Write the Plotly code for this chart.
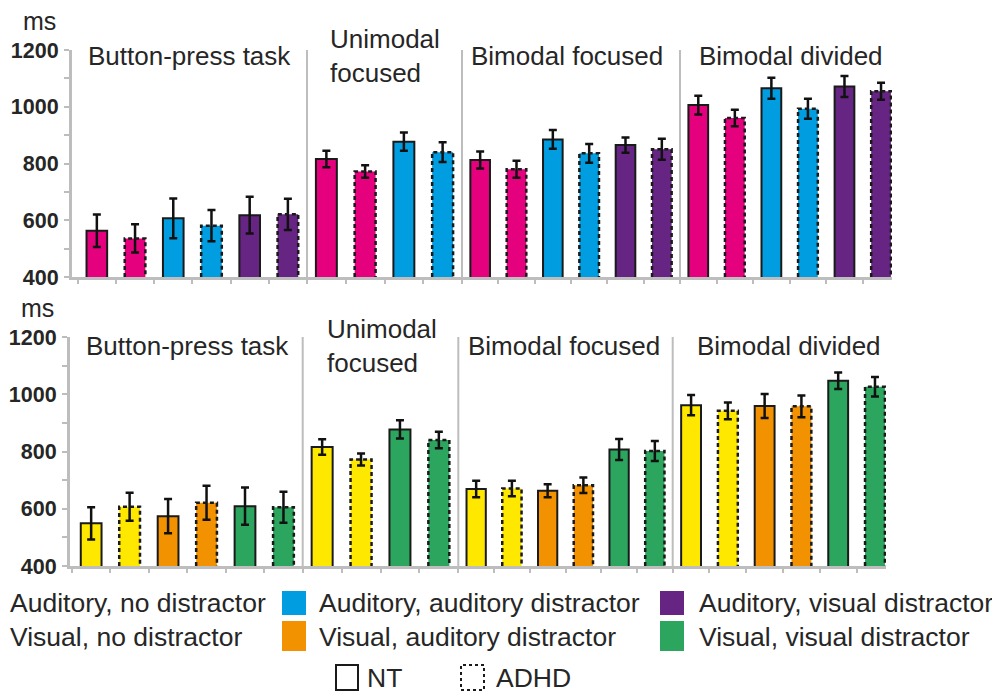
import plotly.graph_objects as go

FONT = "Liberation Sans, Arial, sans-serif"
TXT = "#262626"
AXC = "#bdbdbd"

# ---------------- data (ms) ----------------
group_names = ["Button-press task", "Unimodal<br>focused", "Bimodal focused", "Bimodal divided"]
groups_type = ["NT", "ADHD"]

aud_cond_full = ["Auditory, no distractor", "Auditory, no distractor",
                 "Auditory, auditory distractor", "Auditory, auditory distractor",
                 "Auditory, visual distractor", "Auditory, visual distractor"]
aud_cond_uni = ["Auditory, no distractor", "Auditory, no distractor",
                "Auditory, auditory distractor", "Auditory, auditory distractor"]
vis_cond_full = ["Visual, no distractor", "Visual, no distractor",
                 "Visual, auditory distractor", "Visual, auditory distractor",
                 "Visual, visual distractor", "Visual, visual distractor"]
vis_cond_uni = ["Visual, no distractor", "Visual, no distractor",
                "Visual, visual distractor", "Visual, visual distractor"]

aud_button_mean = [563, 536, 607, 581, 618, 621]
aud_button_err = [57, 50, 70, 55, 65, 55]
aud_unimodal_mean = [816, 772, 877, 840]
aud_unimodal_err = [29, 22, 32, 35]
aud_bifocused_mean = [812, 780, 885, 836, 865, 850]
aud_bifocused_err = [30, 30, 33, 33, 27, 37]
aud_bidivided_mean = [1006, 960, 1065, 993, 1071, 1055]
aud_bidivided_err = [33, 29, 37, 35, 37, 30]

vis_button_mean = [549, 607, 574, 621, 609, 605]
vis_button_err = [56, 49, 60, 59, 65, 54]
vis_unimodal_mean = [816, 772, 877, 840]
vis_unimodal_err = [27, 21, 32, 29]
vis_bifocused_mean = [669, 671, 663, 682, 807, 802]
vis_bifocused_err = [29, 27, 23, 27, 37, 35]
vis_bidivided_mean = [962, 942, 959, 958, 1047, 1026]
vis_bidivided_err = [35, 29, 42, 38, 29, 34]

y_tick_vals = [400, 500, 600, 700, 800, 900, 1000, 1100, 1200]
y_tick_text = ["400", "", "600", "", "800", "", "1000", "", "1200"]

condition_colors = {
    "Auditory, no distractor": "#E5007D",
    "Auditory, auditory distractor": "#009EE0",
    "Auditory, visual distractor": "#662483",
    "Visual, no distractor": "#FFE800",
    "Visual, auditory distractor": "#F39200",
    "Visual, visual distractor": "#2CA55E",
}

# ---------------- layout geometry (page pixels) ----------------
PAGE_OFF = 8            # default page margin around the figure
W, H = 1000 - PAGE_OFF, 693 - PAGE_OFF

panels = [
    dict(yaxis="y", axes=["x", "x2", "x3", "x4"],
         bounds=[72, 307, 462, 680, 892], first_start=-0.65,
         ypx=(50, 277),
         means=[aud_button_mean, aud_unimodal_mean, aud_bifocused_mean, aud_bidivided_mean],
         errs=[aud_button_err, aud_unimodal_err, aud_bifocused_err, aud_bidivided_err],
         conds=[aud_cond_full, aud_cond_uni, aud_cond_full, aud_cond_full],
         label_x=[86, 328, 469, 697], label_y=56, ms=(39, 21)),
    dict(yaxis="y2", axes=["x5", "x6", "x7", "x8"],
         bounds=[70, 302.7, 458.3, 672.7, 886], first_start=-0.55,
         ypx=(337, 566),
         means=[vis_button_mean, vis_unimodal_mean, vis_bifocused_mean, vis_bidivided_mean],
         errs=[vis_button_err, vis_unimodal_err, vis_bifocused_err, vis_bidivided_err],
         conds=[vis_cond_full, vis_cond_uni, vis_cond_full, vis_cond_full],
         label_x=[84, 325, 466, 695], label_y=346, ms=(37, 308)),
]

BAR_W = 0.54
fig = go.Figure()
layout = dict(width=W, height=H, margin=dict(l=0, r=0, t=0, b=0, pad=0, autoexpand=False),
              paper_bgcolor="white", plot_bgcolor="white", showlegend=False,
              font=dict(family=FONT, color=TXT))
shapes, annotations = [], []


def px(x):
    return (x - PAGE_OFF) / W


def py(y):
    return 1 - (y - PAGE_OFF) / H


for p in panels:
    ykey = "yaxis" if p["yaxis"] == "y" else "yaxis" + p["yaxis"][1:]
    layout[ykey] = dict(domain=[py(p["ypx"][1]), py(p["ypx"][0])], range=[400, 1200],
                        anchor=p["axes"][0], showline=True, linecolor=AXC, linewidth=3,
                        ticks="outside", ticklen=5, tickwidth=2, tickcolor=AXC,
                        tickvals=y_tick_vals, ticktext=y_tick_text, showgrid=False,
                        zeroline=False, ticklabelstandoff=1, automargin=False,
                        tickfont=dict(family=FONT, size=21.5, color=TXT, weight="bold"))
    for g, ax in enumerate(p["axes"]):
        means, errs, conds = p["means"][g], p["errs"][g], p["conds"][g]
        n = len(means)
        idx = list(range(n))
        types = [groups_type[i % 2] for i in idx]
        r0 = p["first_start"] if g == 0 else -0.5
        r1 = n - 0.7 if g == len(p["axes"]) - 1 else n - 0.5
        xkey = "xaxis" if ax == "x" else "xaxis" + ax[1:]
        layout[xkey] = dict(domain=[px(p["bounds"][g]), px(p["bounds"][g + 1])],
                            range=[r0, r1], anchor=p["yaxis"], showline=True,
                            linecolor=AXC, linewidth=3, ticks="outside", ticklen=4,
                            tickwidth=2, tickcolor=AXC, automargin=False,
                            tickvals=[i - 0.5 for i in idx], showticklabels=False,
                            showgrid=False, zeroline=False)
        fig.add_trace(go.Bar(
            x=idx, y=means, width=BAR_W, xaxis=ax, yaxis=p["yaxis"],
            marker=dict(color=[condition_colors[c] for c in conds],
                        line=dict(color="#1a1a1a",
                                  width=[2 if t == "NT" else 0 for t in types])),
            error_y=dict(type="data", array=errs, visible=True, color="#111111",
                         thickness=2.5, width=4),
            hoverinfo="y"))
        # dashed outlines for ADHD bars
        ox, oy = [], []
        for i, (m, t) in enumerate(zip(means, types)):
            if t == "ADHD":
                ox += [i - BAR_W / 2, i - BAR_W / 2, i + BAR_W / 2, i + BAR_W / 2, None]
                oy += [400, m, m, 400, None]
        fig.add_trace(go.Scatter(x=ox, y=oy, mode="lines", xaxis=ax, yaxis=p["yaxis"],
                                 line=dict(color="#1a1a1a", width=2.5, dash="4px,3px"),
                                 hoverinfo="skip"))
        # group label
        annotations.append(dict(text=group_names[g], xref="paper", yref="paper",
                                x=px(p["label_x"][g]), y=py(p["label_y"]),
                                xanchor="left", yanchor="middle", showarrow=False,
                                align="left", font=dict(family=FONT, size=26, color=TXT)))
        # separators
        if g > 0:
            shapes.append(dict(type="line", xref="paper", yref=p["yaxis"],
                               x0=px(p["bounds"][g]), x1=px(p["bounds"][g]),
                               y0=400, y1=1206, line=dict(color=AXC, width=2)))
    annotations.append(dict(text="ms", xref="paper", yref="paper",
                            x=px(p["ms"][0]), y=py(p["ms"][1]), xanchor="center",
                            yanchor="middle", showarrow=False,
                            font=dict(family=FONT, size=25, color=TXT)))

# ---------------- legend ----------------
LEG = 26.5
legend_rows = [
    [("Auditory, no distractor", 8, None), ("Auditory, auditory distractor", 317, 282),
     ("Auditory, visual distractor", 697, 660)],
    [("Visual, no distractor", 8, None), ("Visual, auditory distractor", 317, 282),
     ("Visual, visual distractor", 697, 660)],
]
row_y = [603, 637]
row_sw = [(591, 615), (621, 651)]
for r, row in enumerate(legend_rows):
    for text, tx, sx in row:
        annotations.append(dict(text=text, xref="paper", yref="paper", x=px(tx), y=py(row_y[r]),
                                xanchor="left", yanchor="middle", showarrow=False,
                                font=dict(family=FONT, size=LEG, color=TXT)))
        if sx is not None:
            shapes.append(dict(type="rect", xref="paper", yref="paper",
                               x0=px(sx), x1=px(sx + 24), y0=py(row_sw[r][1]), y1=py(row_sw[r][0]),
                               fillcolor=condition_colors[text], line=dict(width=0)))

shapes.append(dict(type="rect", xref="paper", yref="paper", x0=px(336), x1=px(358),
                   y0=py(690), y1=py(665), line=dict(color="#1a1a1a", width=2)))
shapes.append(dict(type="rect", xref="paper", yref="paper", x0=px(461), x1=px(484),
                   y0=py(690), y1=py(665), line=dict(color="#1a1a1a", width=2, dash="3px,3px")))
annotations.append(dict(text="NT", xref="paper", yref="paper", x=px(365), y=py(678),
                        xanchor="left", yanchor="middle", showarrow=False,
                        font=dict(family=FONT, size=LEG, color=TXT)))
annotations.append(dict(text="ADHD", xref="paper", yref="paper", x=px(494), y=py(678),
                        xanchor="left", yanchor="middle", showarrow=False,
                        font=dict(family=FONT, size=LEG, color=TXT)))

layout["shapes"] = shapes
layout["annotations"] = annotations
fig.update_layout(**layout)
fig.write_html("out.html")
